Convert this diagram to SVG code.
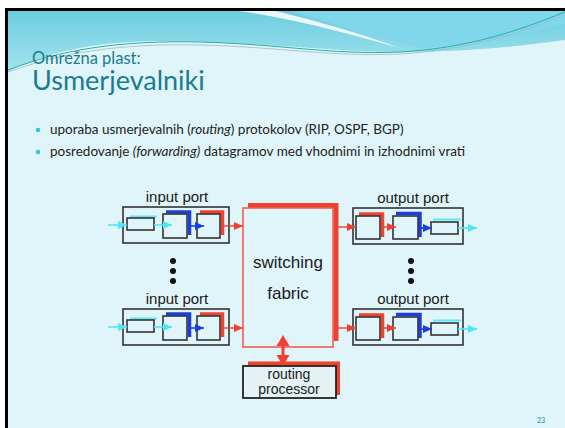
<svg xmlns="http://www.w3.org/2000/svg" width="565" height="428" viewBox="0 0 565 428">
<defs>
<linearGradient id="hdr" x1="0" y1="0" x2="0" y2="1">
<stop offset="0" stop-color="#6ccde0"/>
<stop offset="1" stop-color="#a5e3ee"/>
</linearGradient>
<marker id="aC" markerUnits="userSpaceOnUse" markerWidth="9" markerHeight="8" refX="9" refY="4" orient="auto"><path d="M0,0 L9,4 L0,8 Z" fill="#4fe6f2"/></marker>
<marker id="aB" markerUnits="userSpaceOnUse" markerWidth="9" markerHeight="8" refX="9" refY="4" orient="auto"><path d="M0,0 L9,4 L0,8 Z" fill="#1c3ee0"/></marker>
<marker id="aR" markerUnits="userSpaceOnUse" markerWidth="9" markerHeight="8" refX="9" refY="4" orient="auto"><path d="M0,0 L9,4 L0,8 Z" fill="#f04030"/></marker>
</defs>
<style>
.box{fill:none;stroke:#333;stroke-width:1.6}
.lbl{font-family:"Liberation Sans",Arial,sans-serif;font-size:15px;fill:#1a1a1a;text-anchor:middle}
.shB{fill:none;stroke:#1c3ee0;stroke-width:3.5}
.shR{fill:none;stroke:#f04030;stroke-width:3.5}
.shC{fill:none;stroke:#5ee8f3;stroke-width:2}
.cC{stroke:#4fe6f2;stroke-width:1.6;fill:none;marker-end:url(#aC)}
.cB{stroke:#1c3ee0;stroke-width:1.6;fill:none;marker-end:url(#aB)}
.cR{stroke:#f04030;stroke-width:1.4;fill:none;marker-end:url(#aR)}
.dot{fill:#111}
.body{font-family:Lato,"Open Sans",sans-serif;font-size:13.5px;fill:#222}
</style>
<rect x="0" y="0" width="565" height="428" fill="#ffffff"/>
<rect x="8" y="11" width="557" height="417" fill="#e0f5f9"/>
<!-- header waves -->
<path d="M8,11 H565 V40 C520,46 470,52 400,52 C330,52 250,41 160,41 C90,41 40,55 8,72 Z" fill="url(#hdr)"/>
<path d="M290,11 H565 V24 C520,35 470,45 420,48 C370,36 330,22 290,11 Z" fill="#80d6ea"/>
<path d="M240,11 C300,20 350,34 400,48 C350,30 305,18 275,11 Z" fill="#ffffff" opacity="0.85"/>
<path d="M8,70 C60,50 120,40 200,42 C280,44 330,55 400,52 C470,48 520,30 565,12" fill="none" stroke="#22b2a6" stroke-width="1"/>
<path d="M8,72 C60,53 120,43 200,45 C280,47 330,57 400,54 C470,50 520,33 565,15" fill="none" stroke="#9fb9c4" stroke-width="0.8"/>
<rect x="5" y="8" width="560" height="3" fill="#000"/>
<rect x="5" y="8" width="3" height="420" fill="#000"/>
<!-- titles -->
<text x="32" y="64" font-family="Lato,'Open Sans',sans-serif" font-size="16.5" fill="#1a7b91">Omrežna plast:</text>
<text x="32" y="90" font-family="Lato,'Open Sans',sans-serif" font-size="27" fill="#1a7b91">Usmerjevalniki</text>
<!-- bullets -->
<circle cx="38" cy="130" r="2.3" fill="#38c3dc"/>
<circle cx="38" cy="152" r="2.3" fill="#38c3dc"/>
<text class="body" x="50" y="134">uporaba usmerjevalnih (<tspan font-style="italic">routing</tspan>) protokolov (RIP, OSPF, BGP)</text>
<text class="body" x="50" y="156">posredovanje <tspan font-style="italic">(forwarding)</tspan> datagramov med vhodnimi in izhodnimi vrati</text>

<g id="input-port-1">
<text class="lbl" x="177" y="202">input port</text>
<rect class="box" x="123" y="207" width="106" height="36"/>
<path class="shC" d="M130,216.5 H157"/>
<rect class="box" x="127" y="218" width="27" height="12"/>
<path class="shB" d="M166,212 H189.5 V235"/>
<rect class="box" x="163" y="214" width="24" height="24"/>
<path class="shR" d="M200,212 H222.5 V235"/>
<rect class="box" x="197" y="214" width="23" height="24"/>
</g>
<g id="input-port-2">
<text class="lbl" x="177" y="304">input port</text>
<rect class="box" x="123" y="309" width="106" height="36"/>
<path class="shC" d="M130,318.5 H157"/>
<rect class="box" x="127" y="320" width="27" height="12"/>
<path class="shB" d="M166,314 H189.5 V337"/>
<rect class="box" x="163" y="316" width="24" height="24"/>
<path class="shR" d="M200,314 H222.5 V337"/>
<rect class="box" x="197" y="316" width="23" height="24"/>
</g>
<g id="input-dots">
<circle class="dot" cx="173" cy="261" r="3"/>
<circle class="dot" cx="173" cy="271" r="3"/>
<circle class="dot" cx="173" cy="281" r="3"/>
</g>
<g id="switching-fabric">
<path d="M248,205.5 H336 V341" fill="none" stroke="#f04030" stroke-width="5"/>
<rect x="243" y="208" width="90" height="139" fill="none" stroke="#f2604f" stroke-width="1.6"/>
<text x="288" y="268" font-family="'Liberation Sans',Arial,sans-serif" font-size="17" fill="#1a1a1a" text-anchor="middle">switching</text>
<text x="288" y="299" font-family="'Liberation Sans',Arial,sans-serif" font-size="17" fill="#1a1a1a" text-anchor="middle">fabric</text>
</g>
<g id="routing-processor">
<path d="M248,363.5 H338 V395" fill="none" stroke="#f04030" stroke-width="4"/>
<rect x="243" y="366" width="93" height="32" fill="#e4f2f4" stroke="#222" stroke-width="1.8"/>
<text x="289" y="379" font-family="'Liberation Sans',Arial,sans-serif" font-size="14" fill="#1a1a1a" text-anchor="middle">routing</text>
<text x="289" y="394" font-family="'Liberation Sans',Arial,sans-serif" font-size="14" fill="#1a1a1a" text-anchor="middle">processor</text>
</g>
<g id="output-port-1">
<text class="lbl" x="413" y="203">output port</text>
<rect class="box" x="353" y="208" width="110" height="36"/>
<path class="shR" d="M359,214 H382.5 V237"/>
<rect class="box" x="356" y="216" width="24" height="23"/>
<path class="shB" d="M396,213.5 H420 V237"/>
<rect class="box" x="393" y="216" width="25" height="23"/>
<path class="shC" d="M433,219.5 H461"/>
<rect class="box" x="431" y="222" width="27" height="12"/>
</g>
<g id="output-port-2">
<text class="lbl" x="413" y="304">output port</text>
<rect class="box" x="353" y="309" width="110" height="36"/>
<path class="shR" d="M359,315 H382.5 V338"/>
<rect class="box" x="356" y="317" width="24" height="23"/>
<path class="shB" d="M396,314.5 H420 V338"/>
<rect class="box" x="393" y="317" width="25" height="23"/>
<path class="shC" d="M433,320.5 H461"/>
<rect class="box" x="431" y="323" width="27" height="12"/>
</g>
<g id="output-dots">
<circle class="dot" cx="411" cy="261" r="3"/>
<circle class="dot" cx="411" cy="271" r="3"/>
<circle class="dot" cx="411" cy="281" r="3"/>
</g>
<g id="connectors">
<path class="cC" d="M108,225 H127"/>
<path class="cC" d="M154,225 H172"/>
<path class="cB" d="M189,226 H204"/>
<path class="cR" d="M222,226 H243"/>
<path class="cC" d="M108,327 H127"/>
<path class="cC" d="M154,327 H172"/>
<path class="cB" d="M189,328 H204"/>
<path class="cR" d="M222,328 H243"/>
<path class="cR" d="M338,227 H356"/>
<path class="cR" d="M381,227 H396"/>
<path class="cB" d="M419,228 H432"/>
<path class="cC" d="M458,228 H477"/>
<path class="cR" d="M338,328 H356"/>
<path class="cR" d="M381,328 H396"/>
<path class="cB" d="M419,329 H432"/>
<path class="cC" d="M458,329 H477"/>
<line x1="283" y1="344" x2="283" y2="357" stroke="#f04030" stroke-width="3"/>
<polygon points="283,335 276.5,346 289.5,346" fill="#f04030"/>
<polygon points="283,366 276.5,355 289.5,355" fill="#f04030"/>
</g>
<text x="537" y="423" font-family="Lato,sans-serif" font-size="7" fill="#2a8aa0">23</text>
</svg>
